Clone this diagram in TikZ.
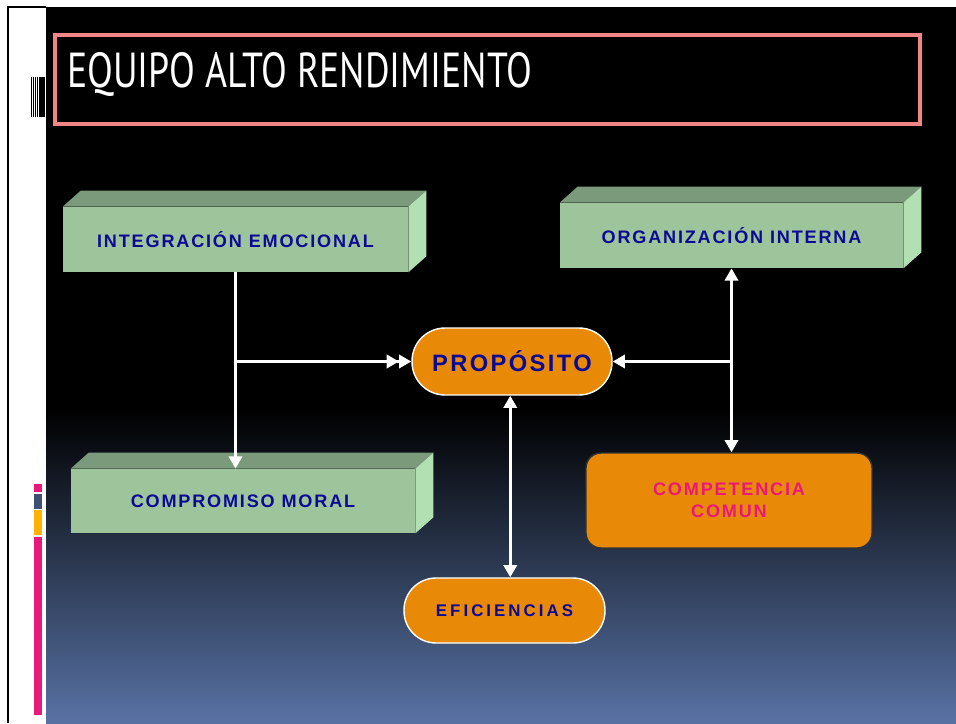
\documentclass[tikz,border=0pt]{standalone}
\usepackage{fontspec}
\usepackage{tikz}
\usetikzlibrary{arrows.meta}
\newfontfamily\boxfont[LetterSpace=10]{Liberation Sans}
\newfontfamily\widefont[LetterSpace=18]{Liberation Sans}
\newfontfamily\titlefont{PT Sans}
\definecolor{boxblue}{RGB}{10,10,150}
\definecolor{boxpink}{RGB}{232,25,122}
\definecolor{greenfront}{RGB}{157,196,154}
\definecolor{greentop}{RGB}{123,153,123}
\definecolor{greenside}{RGB}{179,224,179}
\definecolor{orangefill}{RGB}{232,137,8}
\definecolor{titleframe}{RGB}{242,134,134}
\definecolor{slidebottom}{RGB}{88,114,164}
\tikzset{
  greenbox/.style={fill=greenfront,minimum height=1.3cm,inner sep=0pt,text=boxblue,
    font=\boxfont\bfseries\fontsize{10.3}{12}\selectfont},
  pill/.style={fill=orangefill,draw=white,line width=0.8pt,inner sep=0pt,text=boxblue},
  conn/.style={draw=white,line width=1.8pt}
}

\begin{document}
\begin{tikzpicture}[x=0.02cm,y=-0.02cm,>={Triangle[width=7.5pt,length=7pt]}]
  \useasboundingbox (0,0) rectangle (956,723);
  \fill[white] (0,0) rectangle (956,723);

  % slide background
  \fill[black] (46,7) rectangle (956,410);
  \shade[top color=black,bottom color=slidebottom] (46,409) rectangle (956,723);
  \draw[black,line width=1.2pt] (8,723) -- (8,7) -- (46,7);

  % side marks
  \foreach \xx in {31.5,33.5,35.5,37.5}
    \draw[black,line width=0.5pt] (\xx,77) -- (\xx,117);
  \fill[black] (39,77) rectangle (45,117);
  \fill[boxpink] (34,484) rectangle (42,492);
  \fill[slidebottom!70!black] (34,494) rectangle (42,509);
  \fill[orange!60!yellow] (34,510) rectangle (42,535);
  \fill[boxpink] (34,537) rectangle (42,715);

  % title
  \draw[titleframe,line width=2pt] (55,35) rectangle (920,124);
  \node[anchor=base west,inner sep=0pt,text=white] (title) at (67,88)
    {\resizebox{9.3cm}{0.7cm}{\titlefont EQUIPO ALTO RENDIMIENTO}};

  % boxes
  \node[greenbox,minimum width=6.9cm] (integ) at (235.5,239.5) {INTEGRACIÓN EMOCIONAL};
  \node[greenbox,minimum width=6.86cm] (organ) at (731.5,235.5) {ORGANIZACIÓN INTERNA};
  \node[greenbox,minimum width=6.88cm,minimum height=1.28cm] (compr) at (243,501) {COMPROMISO MORAL};
  \foreach \b in {integ,organ,compr} {
    \fill[greentop] (\b.north west) -- ++(18,-16) -- ([shift={(18,-16)}]\b.north east) -- (\b.north east) -- cycle;
    \fill[greenside] (\b.north east) -- ++(18,-16) -- ([shift={(18,-16)}]\b.south east) -- (\b.south east) -- cycle;
  }

  \node[pill,minimum width=4cm,minimum height=1.34cm,rounded corners=0.66cm,
    font=\boxfont\bfseries\fontsize{13.5}{16}\selectfont] (prop) at (512,361.5) {PROPÓSITO};
  \node[pill,minimum width=4.02cm,minimum height=1.3cm,rounded corners=0.64cm,
    font=\widefont\bfseries\fontsize{9.6}{12}\selectfont] (efic) at (504.5,610.5) {EFICIENCIAS};
  \node[fill=orangefill,draw=black!80,line width=0.8pt,rounded corners=0.3cm,
    minimum width=5.72cm,minimum height=1.9cm,align=center,text=boxpink,
    font=\boxfont\bfseries\fontsize{10.3}{12.5}\selectfont] (compet) at (729,500.5) {COMPETENCIA\\COMUN};

  % connectors
  \draw[conn,-{Triangle[width=7.5pt,length=7pt]Triangle[width=7.5pt,length=7pt]}] (integ.south) |- (prop.west);
  \draw[conn,->] (integ.south |- prop.west) -- (integ.south |- compr.north);
  \draw[conn,<->] (organ.south) -- (organ.south |- compet.north);
  \draw[conn,->] (organ.south |- prop.east) -- (prop.east);
  \draw[conn,<->] ([xshift=-1pt]prop.south) -- ([xshift=-1pt]prop.south |- efic.north);
\end{tikzpicture}
\end{document}
